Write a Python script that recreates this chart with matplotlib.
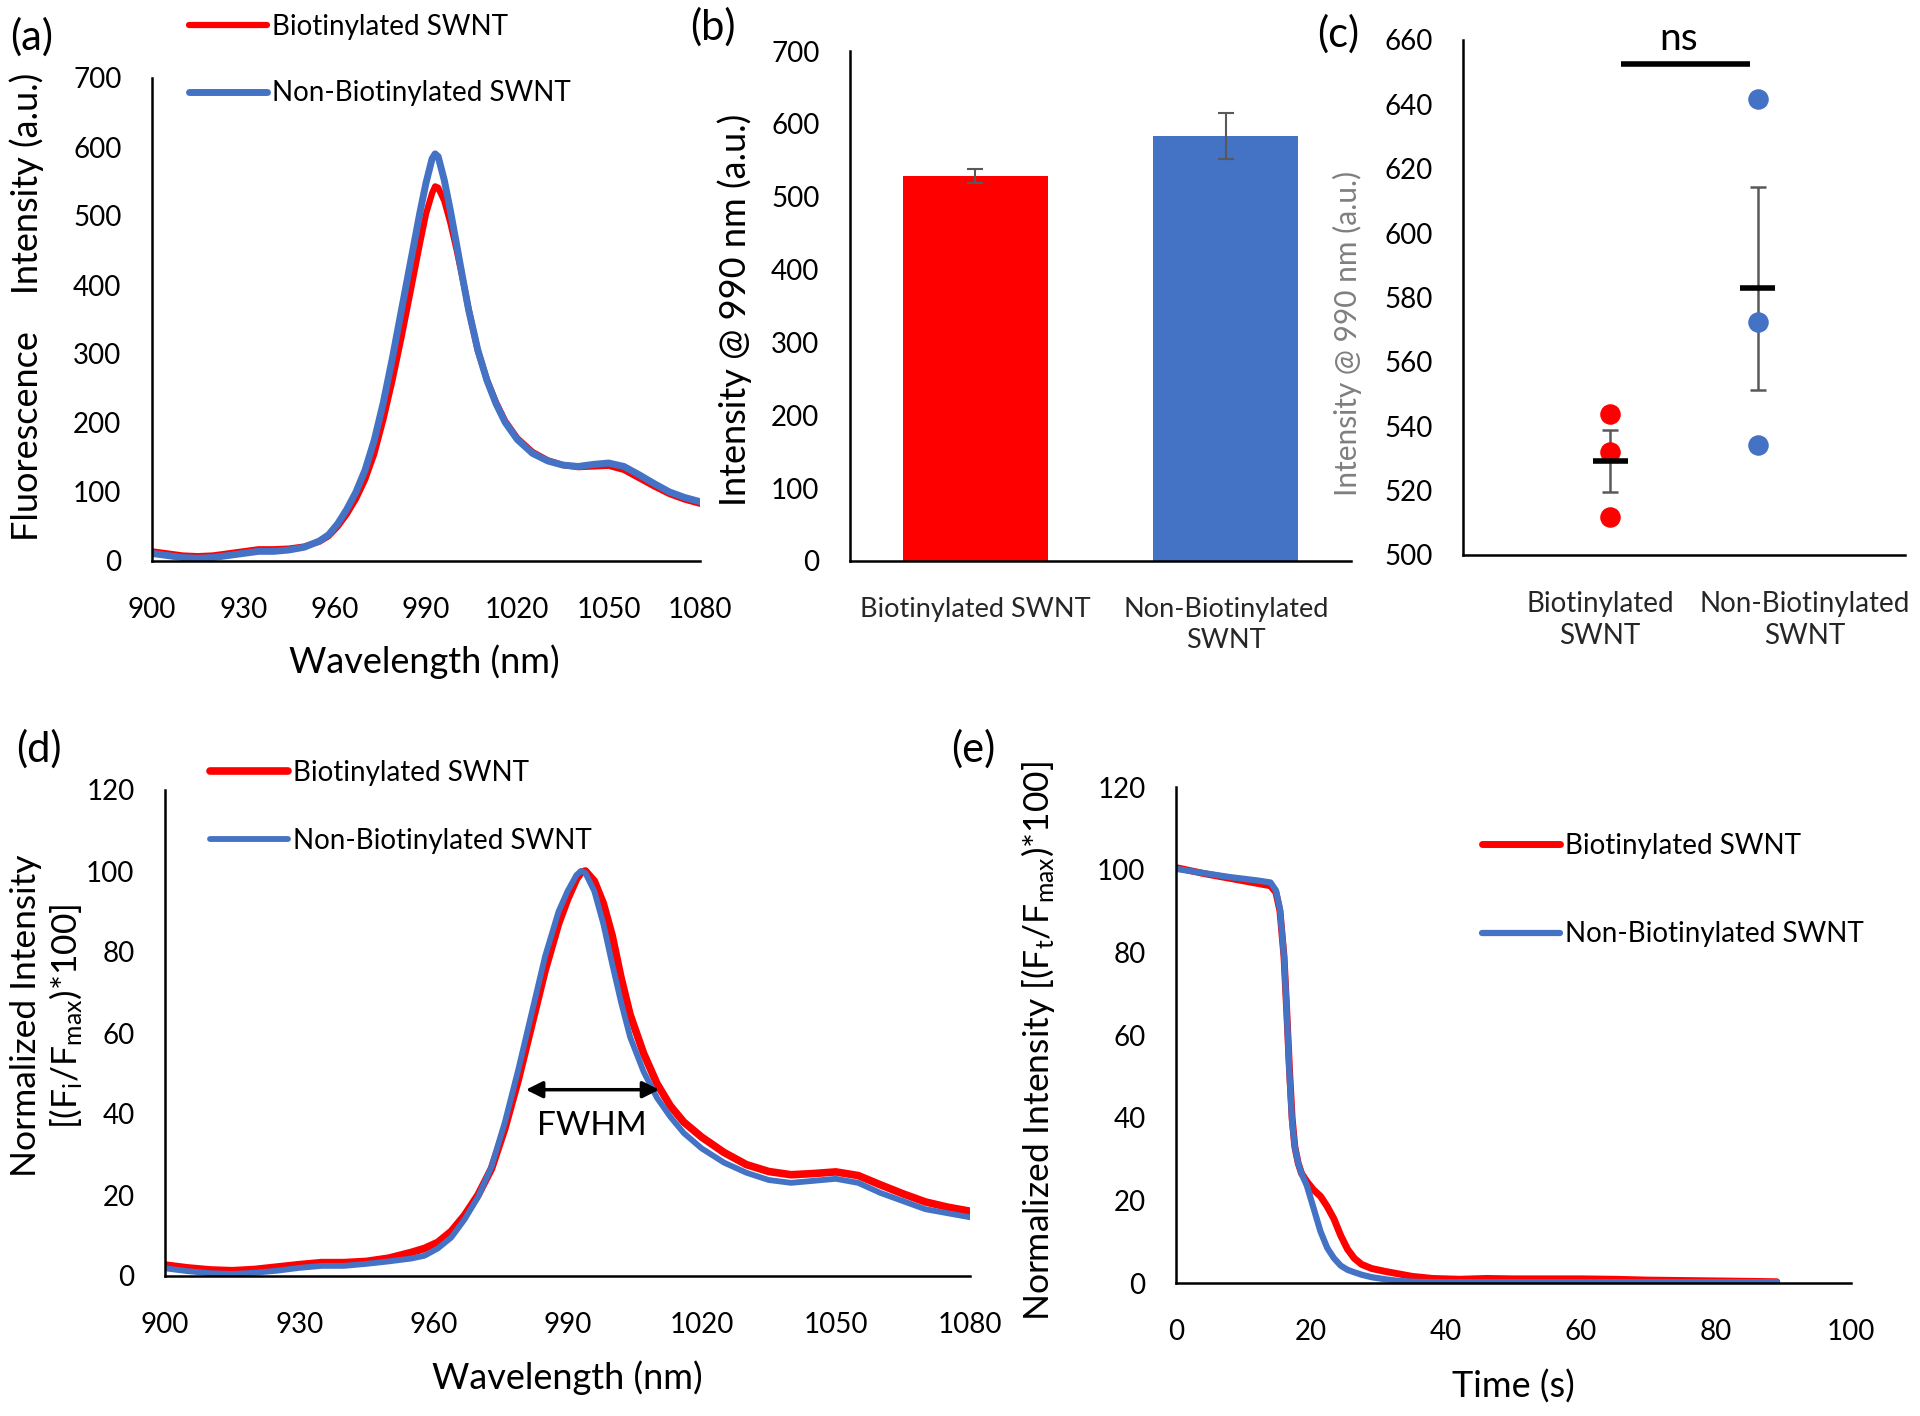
import matplotlib
matplotlib.use("Agg")
import matplotlib.pyplot as plt

plt.rcParams['font.family'] = ['Lato', 'DejaVu Sans']
plt.rcParams['mathtext.default'] = 'regular'

RED = '#FF0000'
BLUE = '#4472C4'
GRAY = '#595959'

# ---- data ----
wavelength = [900, 905, 910, 915, 920, 925, 930, 935, 940, 945, 950, 955,
              958, 961, 964, 967, 970, 973, 976, 979, 982, 985, 988,
              990, 992, 993, 994, 996, 998, 1000, 1002, 1004,
              1007, 1010, 1013, 1016, 1020, 1025, 1030, 1035, 1040, 1045,
              1050, 1055, 1060, 1065, 1070, 1075, 1080]

# (a) raw fluorescence
fl_biot = [14, 11, 8, 7, 8, 11, 14, 17, 17, 18, 21, 28,
           36, 50, 68, 90, 118, 155, 205, 262, 325, 392, 460,
           503, 533, 543, 541, 522, 490, 452, 410, 365,
           305, 263, 230, 203, 178, 158, 146, 139, 136, 137,
           138, 132, 120, 108, 97, 89, 83]
fl_nonbiot = [11, 8, 5, 4, 5, 8, 11, 14, 14, 16, 20, 29,
              38, 54, 75, 100, 132, 175, 230, 295, 365, 435, 505,
              548, 583, 590, 586, 552, 508, 460, 411, 364,
              306, 262, 228, 201, 176, 156, 145, 139, 137, 140,
              142, 137, 125, 112, 100, 92, 86]

# (d) normalized spectra
norm_biot = [2.7, 2.0, 1.5, 1.3, 1.6, 2.2, 2.8, 3.3, 3.3, 3.6, 4.4, 5.8,
             6.8, 8.3, 11, 15, 20, 26.5, 36.5, 48.5, 62, 75.5, 87,
             93, 98, 99.6, 100, 97.5, 92, 84, 73.5, 64.5,
             55, 47.5, 42, 38, 34.3, 30.5, 27.5, 25.8, 25, 25.3,
             25.7, 24.8, 22.5, 20.3, 18.3, 17, 16]
norm_nonbiot = [1.9, 1.2, 0.7, 0.5, 0.8, 1.3, 2.0, 2.5, 2.5, 3.0, 3.6, 4.3,
                5.0, 6.8, 9.5, 14, 19.5, 27, 38, 51, 65, 79, 90,
                95, 99, 100, 99.5, 95, 87, 77, 67.5, 59,
                50.5, 44, 39.3, 35.3, 31.5, 28, 25.5, 23.7, 23, 23.5,
                24, 23, 20.5, 18.5, 16.5, 15.5, 14.5]

# (b) bar chart
groups = ['Biotinylated SWNT', 'Non-Biotinylated\nSWNT']
bar_mean = [529, 583]
bar_err = [9.5, 31.5]

# (c) individual points
groups_c = ['Biotinylated\nSWNT', 'Non-Biotinylated\nSWNT']
pts_biot = [543.8, 532.1, 511.8]
pts_nonbiot = [641.7, 572.4, 534.2]
pt_mean = [529.2, 582.8]
pt_err = [9.5, 31.6]
ns_level = 652.6

# (e) time traces
time_s = [0, 2, 4, 6, 8, 10, 12, 14,
          14.8, 15.4, 16.0, 16.4, 16.8, 17.2, 17.6, 18.1,
          18.6, 19.4, 20.4, 21.4, 22.4, 23.4, 24.4, 25.4, 26.4, 27.5,
          29, 31, 33, 35, 38, 42, 46, 50, 55, 60, 65, 70, 75, 80, 85, 89]
tr_biot = [100.5, 99.8, 99.1, 98.5, 97.9, 97.3, 96.7, 96.1,
           94.5, 90, 79, 66, 52, 40, 33, 29,
           26.5, 24.5, 22.5, 21, 18.5, 15.5, 11.5, 8.2, 6, 4.5,
           3.5, 2.8, 2.2, 1.6, 1.1, 0.9, 1.1, 1.0, 1.0, 1.0, 0.9, 0.7, 0.6, 0.5, 0.4, 0.3]
tr_nonbiot = [100.2, 99.7, 99.2, 98.7, 98.2, 97.8, 97.4, 96.9,
              95, 90.5, 79, 66, 51, 39, 33, 29,
              26.5, 23.5, 18, 12.5, 8.5, 6, 4.2, 3.2, 2.6, 2.0,
              1.4, 0.9, 0.5, 0.3, 0.2, 0.2, 0.2, 0.2, 0.2, 0.2, 0.2, 0.2, 0.2, 0.2, 0.2, 0.2]

W, H = 1920, 1416
fig = plt.figure(figsize=(W / 100, H / 100), dpi=100)


def fx(x):
    return x / W


def fy(y):
    return 1 - y / H


def add_axes(left, right, top, bottom):
    ax = fig.add_axes([fx(left), fy(bottom), fx(right - left), (bottom - top) / H])
    for s in ['top', 'right']:
        ax.spines[s].set_visible(False)
    for s in ['left', 'bottom']:
        ax.spines[s].set_linewidth(1.8)
        ax.spines[s].set_color('black')
    ax.tick_params(length=0, labelsize=20)
    ax.tick_params(axis='y', pad=22)
    ax.tick_params(axis='x', pad=26)
    return ax


def legend(ax, x, y, spacing=1.45):
    ax.legend(loc='upper left', bbox_to_anchor=(fx(x), fy(y)),
              bbox_transform=fig.transFigure, frameon=False, borderpad=0,
              borderaxespad=0, handlelength=2.8, handletextpad=0.2,
              labelspacing=spacing, fontsize=20)


LINE = dict(solid_capstyle='round', solid_joinstyle='round')

# (a)
ax = add_axes(152, 700, 78, 561)
ax.plot(wavelength, fl_biot, color=RED, lw=4.5, label='Biotinylated SWNT', **LINE)
ax.plot(wavelength, fl_nonbiot, color=BLUE, lw=5, label='Non-Biotinylated SWNT', **LINE)
ax.set_xlim(900, 1080)
ax.set_ylim(0, 700)
ax.set_xticks(range(900, 1081, 30))
ax.set_yticks(range(0, 701, 100))
legend(ax, 189, 14)
fig.text(fx(424), fy(662), 'Wavelength (nm)', fontsize=26, ha='center', va='center')
fig.text(fx(27), fy(307), 'Fluorescence    Intensity (a.u.)', fontsize=26,
         rotation=90, ha='center', va='center')

# (b)
ax = add_axes(850, 1351, 51, 561)
ax.bar([0, 1], bar_mean, width=0.58, color=[RED, BLUE])
ax.errorbar([0, 1], bar_mean, yerr=bar_err, fmt='none', ecolor=GRAY,
            elinewidth=1.5, capsize=6, capthick=1.5)
ax.set_xlim(-0.5, 1.5)
ax.set_ylim(0, 700)
ax.set_yticks(range(0, 701, 100))
ax.set_xticks([0, 1], groups, fontsize=19.5, linespacing=1.3)
ax.tick_params(axis='x', pad=26, labelcolor='#262626')
fig.text(fx(735), fy(310), 'Intensity @ 990 nm (a.u.)', fontsize=26,
         rotation=90, ha='center', va='center')

# (c)
ax = add_axes(1463, 1905, 40, 555)
ax.scatter([1] * len(pts_biot), pts_biot, s=190, color=RED, zorder=3)
ax.scatter([2] * len(pts_nonbiot), pts_nonbiot, s=190, color=BLUE, zorder=3)
ax.errorbar([1, 2], pt_mean, yerr=pt_err, fmt='none', ecolor=GRAY,
            elinewidth=1.8, capsize=6, capthick=1.8, zorder=2)
ax.hlines(pt_mean, [0.88, 1.88], [1.12, 2.12], color='black', lw=4, zorder=4)
ax.hlines(ns_level, 1.07, 1.95, color='black', lw=4, clip_on=False)
ax.text(1.46, ns_level + 2.0, 'ns', fontsize=28, ha='center', va='bottom', clip_on=False)
ax.set_xlim(0, 3)
ax.set_ylim(500, 660)
ax.set_yticks(range(500, 661, 20))
ax.set_xticks([0.93, 2.32], groups_c, fontsize=20, linespacing=1.3)
ax.tick_params(axis='x', pad=26, labelcolor='#262626')
fig.text(fx(1347), fy(333), 'Intensity @ 990 nm (a.u.)', fontsize=21.5, color='#7F7F7F',
         rotation=90, ha='center', va='center')

# (d)
ax = add_axes(165, 970, 790, 1276)
ax.plot(wavelength, norm_biot, color=RED, lw=5.5, label='Biotinylated SWNT', **LINE)
ax.plot(wavelength, norm_nonbiot, color=BLUE, lw=4.2, label='Non-Biotinylated SWNT', **LINE)
ax.set_xlim(900, 1080)
ax.set_ylim(0, 120)
ax.set_xticks(range(900, 1081, 30))
ax.set_yticks(range(0, 121, 20))
ax.annotate('', xy=(980.7, 46), xytext=(1010.5, 46),
            arrowprops=dict(arrowstyle='<|-|>', color='black', lw=2.5,
                            mutation_scale=25, shrinkA=0, shrinkB=0))
ax.text(995.5, 37, 'FWHM', fontsize=24, ha='center', va='center')
legend(ax, 210, 760, spacing=1.5)
fig.text(fx(567), fy(1378), 'Wavelength (nm)', fontsize=26, ha='center', va='center')
fig.text(fx(47), fy(1016), 'Normalized Intensity\n[(F$_{i}$/F$_{max}$)*100]', fontsize=25.5,
         rotation=90, ha='center', va='center', linespacing=1.2)

# (e)
ax = add_axes(1176, 1851, 787, 1283)
ax.plot(time_s, tr_biot, color=RED, lw=5, label='Biotinylated SWNT', **LINE)
ax.plot(time_s, tr_nonbiot, color=BLUE, lw=4.5, label='Non-Biotinylated SWNT', **LINE)
ax.set_xlim(0, 100)
ax.set_ylim(0, 120)
ax.set_xticks(range(0, 101, 20))
ax.set_yticks(range(0, 121, 20))
legend(ax, 1482, 833, spacing=2.25)
fig.text(fx(1513), fy(1387), 'Time (s)', fontsize=26, ha='center', va='center')
fig.text(fx(1038), fy(1041), 'Normalized Intensity [(F$_{t}$/F$_{max}$)*100]', fontsize=25.5,
         rotation=90, ha='center', va='center')

# panel letters
for lab, x, y in [('(a)', 32, 37), ('(b)', 713, 27), ('(c)', 1338, 34),
                  ('(d)', 39, 749), ('(e)', 973, 749)]:
    fig.text(fx(x), fy(y), lab, fontsize=30, ha='center', va='center')

fig.savefig('out.png', dpi=100)
